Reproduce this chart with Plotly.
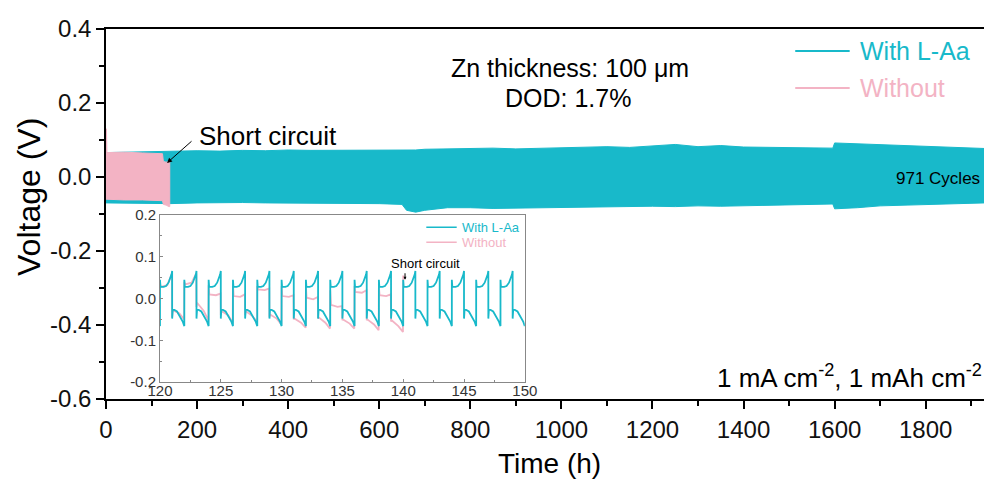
import plotly.graph_objects as go

CYAN = "#18B9CA"
PINK = "#F3B3C4"
FONT = "Arial, 'Liberation Sans', sans-serif"

# ---- long-term cycling, envelope of the voltage band (V) ----
la_time = [0, 50, 100, 140, 200, 250, 300, 350, 400, 450,
           500, 550, 600, 650, 660, 680, 700, 750, 800, 850,
           900, 950, 1000, 1050, 1100, 1150, 1200, 1250, 1300, 1350,
           1400, 1450, 1500, 1550, 1596, 1600, 1650, 1700, 1750, 1800,
           1850, 1900, 1930]
la_upper = [0.066, 0.067, 0.069, 0.070, 0.071, 0.070, 0.072, 0.071, 0.073, 0.072,
            0.072, 0.074, 0.073, 0.073, 0.074, 0.073, 0.075, 0.076, 0.075, 0.078,
            0.076, 0.077, 0.079, 0.081, 0.082, 0.080, 0.083, 0.088, 0.082, 0.085,
            0.081, 0.080, 0.081, 0.079, 0.078, 0.092, 0.090, 0.087, 0.084, 0.082,
            0.080, 0.079, 0.077]
la_lower = [-0.070, -0.071, -0.072, -0.072, -0.070, -0.069, -0.069, -0.070, -0.070, -0.071,
            -0.071, -0.072, -0.072, -0.074, -0.090, -0.095, -0.090, -0.083, -0.083, -0.085,
            -0.086, -0.083, -0.082, -0.083, -0.081, -0.080, -0.079, -0.080, -0.078, -0.079,
            -0.078, -0.077, -0.076, -0.074, -0.073, -0.086, -0.083, -0.078, -0.076, -0.074,
            -0.072, -0.071, -0.070]

wo_time = [0, 1, 2, 40, 80, 110, 124, 126, 132, 138, 140]
wo_upper = [0.130, 0.130, 0.066, 0.067, 0.065, 0.064, 0.063, 0.042, 0.040, 0.042, 0.045]
wo_lower = [-0.060, -0.062, -0.062, -0.062, -0.062, -0.063, -0.064, -0.074, -0.076, -0.080, -0.080]

# ---- zoomed view 120-150 h ----
# one 2 h plating/stripping cycle of the L-Aa cell (offset in h, voltage in V)
la_cycle_offset = [0.00, 0.04, 0.30, 0.50, 0.70, 0.85, 0.95, 1.00,
                   1.00, 1.05, 1.40, 1.70, 1.88, 2.00]
la_cycle_volt = [0.045, 0.028, 0.028, 0.030, 0.038, 0.048, 0.058, 0.066,
                 -0.048, -0.025, -0.031, -0.045, -0.056, -0.066]
la_cycle_start = [118, 120, 122, 124, 126, 128, 130, 132, 134, 136,
                  138, 140, 142, 144, 146, 148]

# cell without additive: per-cycle values at fixed offsets
wo_cycle_offset = [0.00, 0.06, 0.60, 0.98, 1.00, 1.05, 1.60, 1.98]
wo_cycle_start = [120, 122, 124, 126, 128, 130, 132, 134, 136, 138]
wo_cycle_volt = [
    [0.035, 0.028, 0.032, 0.060, -0.045, -0.028, -0.036, -0.050],
    [0.040, 0.034, 0.038, 0.060, -0.020, -0.010, -0.030, -0.052],
    [0.032, 0.010, 0.008, 0.012, -0.040, -0.030, -0.040, -0.058],
    [0.036, 0.006, 0.004, 0.010, -0.040, -0.030, -0.042, -0.056],
    [0.030, 0.022, 0.020, 0.024, -0.045, -0.038, -0.048, -0.062],
    [0.030, 0.006, 0.004, 0.008, -0.050, -0.048, -0.058, -0.070],
    [0.028, 0.002, -0.002, 0.004, -0.048, -0.045, -0.058, -0.072],
    [0.020, -0.015, -0.020, -0.018, -0.052, -0.050, -0.060, -0.072],
    [0.030, 0.016, 0.014, 0.020, -0.052, -0.050, -0.062, -0.076],
    [0.028, 0.008, 0.006, 0.010, -0.055, -0.052, -0.066, -0.080],
]
wo_final = (140.0, 0.055)

main_yticks = [-0.6, -0.4, -0.2, 0.0, 0.2, 0.4]
main_yticktext = ["-0.6", "-0.4", "-0.2", "0.0", "0.2", "0.4"]
inset_yticks = [-0.2, -0.1, 0.0, 0.1, 0.2]
inset_yticktext = ["-0.2", "-0.1", "0.0", "0.1", "0.2"]

fig = go.Figure()


def add_band(t, up, lo, color):
    xs = list(t) + list(t)[::-1]
    ys = list(up) + list(lo)[::-1]
    fig.add_trace(go.Scatter(x=xs, y=ys, mode="lines", fill="toself",
                             fillcolor=color, line=dict(color=color, width=1),
                             hoverinfo="skip", showlegend=False,
                             xaxis="x", yaxis="y"))


add_band(la_time, la_upper, la_lower, CYAN)
add_band(wo_time, wo_upper, wo_lower, PINK)

# zoomed curves
ix, iy = [], []
for s in la_cycle_start:
    for o, v in zip(la_cycle_offset, la_cycle_volt):
        ix.append(s + o)
        iy.append(v)
px_, py_ = [], []
for s, vals in zip(wo_cycle_start, wo_cycle_volt):
    for o, v in zip(wo_cycle_offset, vals):
        px_.append(s + o)
        py_.append(v)
px_.append(wo_final[0])
py_.append(wo_final[1])

fig.add_trace(go.Scatter(x=px_, y=py_, mode="lines",
                         line=dict(color=PINK, width=1.8),
                         showlegend=False, hoverinfo="skip",
                         xaxis="x2", yaxis="y2"))
fig.add_trace(go.Scatter(x=ix, y=iy, mode="lines",
                         line=dict(color=CYAN, width=1.8),
                         showlegend=False, hoverinfo="skip",
                         xaxis="x2", yaxis="y2"))

axis_main = dict(showline=True, linecolor="black", linewidth=1.5,
                 ticks="outside", ticklen=8, tickwidth=1.5, tickcolor="black",
                 showgrid=False, zeroline=False, automargin=False,
                 tickfont=dict(family=FONT, size=24, color="#111"))
axis_inset = dict(showline=True, linecolor="#888", linewidth=1,
                  ticks="inside", ticklen=3, tickwidth=1, tickcolor="#888",
                  showgrid=False, zeroline=False, mirror=True, automargin=False,
                  tickfont=dict(family=FONT, size=15, color="#333"))

fig.update_layout(
    template="none",
    width=984, height=480, autosize=False,
    margin=dict(l=106, r=0, t=29, b=81, pad=0),
    paper_bgcolor="white", plot_bgcolor="white",
    font=dict(family=FONT, color="black"),
    xaxis=dict(axis_main, domain=[0, 1], range=[0, 1928], tick0=0, dtick=200,
               mirror=True, anchor="y",
               minor=dict(dtick=100, ticklen=5, tickwidth=1.5, ticks="outside",
                          tickcolor="black")),
    yaxis=dict(axis_main, domain=[0, 1], range=[-0.6, 0.4],
               tickvals=main_yticks, ticktext=main_yticktext, anchor="x",
               minor=dict(dtick=0.1, tick0=0, ticklen=5, tickwidth=1.5,
                          ticks="outside", tickcolor="black")),
    xaxis2=dict(axis_inset, domain=[0.0615, 0.477], range=[120, 150],
                tick0=120, dtick=5, anchor="y2", ticklabelstandoff=-5,
                minor=dict(dtick=2.5, ticklen=2, ticks="inside", tickcolor="#888")),
    yaxis2=dict(axis_inset, domain=[0.046, 0.497], range=[-0.2, 0.2],
                tickvals=inset_yticks, ticktext=inset_yticktext, anchor="x2",
                minor=dict(dtick=0.05, tick0=0, ticklen=2, ticks="inside",
                           tickcolor="#888")),
)

shapes = []
annotations = []

# legend of the main panel
for yv, col, label in [(0.9405, CYAN, "With L-Aa"), (0.8405, PINK, "Without")]:
    shapes.append(dict(type="line", xref="paper", yref="paper",
                       x0=0.785, x1=0.847, y0=yv, y1=yv,
                       line=dict(color=col, width=2)))
    annotations.append(dict(xref="paper", yref="paper", x=0.857, y=yv,
                            xanchor="left", yanchor="middle", showarrow=False,
                            text=label, font=dict(size=25, color=col)))

# legend of the zoomed panel
for yv, col, label in [(0.171, CYAN, "With L-Aa"), (0.135, PINK, "Without")]:
    shapes.append(dict(type="line", xref="x2", yref="y2",
                       x0=141.9, x1=144.4, y0=yv, y1=yv,
                       line=dict(color=col, width=1.5)))
    annotations.append(dict(xref="x2", yref="y2", x=144.65, y=yv,
                            xanchor="left", yanchor="middle", showarrow=False,
                            text=label, font=dict(size=13, color=col)))


def label(x, y, text, size, ref=("paper", "paper"), **kw):
    d = dict(xref=ref[0], yref=ref[1], x=x, y=y, text=text, showarrow=False,
             xanchor="center", yanchor="middle", font=dict(size=size))
    d.update(kw)
    return d


annotations += [
    label(-0.0877, 0.546, "Voltage (V)", 32, textangle=-90),
    label(0.5046, -0.174, "Time (h)", 28),
    label(0.5285, 0.8946, "Zn thickness: 100 μm", 25),
    label(0.526, 0.8135, "DOD: 1.7%", 25),
    label(0.1845, 0.711, "Short circuit", 26),
    dict(xref="x", yref="y", x=134, y=0.038, text="", showarrow=True,
         ax=26, ay=-23, arrowhead=2, arrowsize=1, arrowwidth=1,
         arrowcolor="black"),
    label(0.9476, 0.597, "971 Cycles", 17),
    label(1.0, 0.062, "1 mA cm<sup>-2</sup>, 1 mAh cm<sup>-2</sup>", 26,
          xanchor="right"),
    label(141.8, 0.085, "Short circuit", 13, ref=("x2", "y2")),
    dict(xref="x2", yref="y2", x=140.15, y=0.045, text="", showarrow=True,
         ax=0, ay=-8, arrowhead=2, arrowsize=0.6, arrowwidth=1,
         arrowcolor="black"),
]

fig.update_layout(shapes=shapes, annotations=annotations)
fig.write_html("out.html")
